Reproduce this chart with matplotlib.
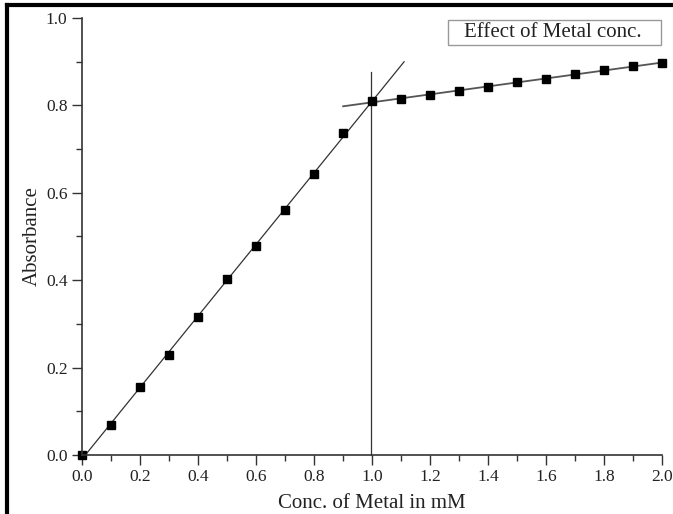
import numpy as np
import matplotlib.pyplot as plt
from matplotlib.lines import Line2D
from matplotlib.patches import Rectangle
from matplotlib.ticker import MultipleLocator

plt.rcParams['font.family'] = ['Liberation Serif', 'DejaVu Serif']

# Absorbance vs metal concentration
conc = [0.0, 0.1, 0.2, 0.3, 0.4, 0.5, 0.6, 0.7, 0.8, 0.9, 1.0,
        1.1, 1.2, 1.3, 1.4, 1.5, 1.6, 1.7, 1.8, 1.9, 2.0]
absorb = [0.0, 0.069, 0.156, 0.229, 0.316, 0.403, 0.478, 0.561, 0.643, 0.737, 0.810,
          0.815, 0.824, 0.833, 0.842, 0.854, 0.860, 0.872, 0.881, 0.890, 0.897]
legend_text = 'Effect of Metal conc.'

x = np.array(conc)
y = np.array(absorb)

fig = plt.figure(figsize=(6.73, 5.14), dpi=100)
ax = fig.add_axes([0.122, 0.115, 0.862, 0.85])

# linear fits of the rising part and the plateau
p1 = np.polyfit(x[:11], y[:11], 1)
p2 = np.polyfit(x[10:], y[10:], 1)
xi = (p2[1] - p1[1]) / (p1[0] - p2[0])

xa = np.array([0.0, 1.11])
xb = np.array([0.9, 2.0])
ax.plot(xa, np.polyval(p1, xa), color='#333333', lw=0.9)
ax.plot(xb, np.polyval(p2, xb), color='#555555', lw=1.3)
ax.plot([xi, xi], [0.0, 0.876], color='#333333', lw=0.9)

ax.plot(x, y, 's', color='black', ms=5.5)

ax.set_xlim(0, 2.0)
ax.set_ylim(0, 1.0)
ax.xaxis.set_major_locator(MultipleLocator(0.2))
ax.xaxis.set_minor_locator(MultipleLocator(0.1))
ax.yaxis.set_major_locator(MultipleLocator(0.2))
ax.yaxis.set_minor_locator(MultipleLocator(0.1))
ax.xaxis.set_major_formatter(plt.FormatStrFormatter('%.1f'))
ax.yaxis.set_major_formatter(plt.FormatStrFormatter('%.1f'))
ax.tick_params(which='major', direction='out', length=7, width=1, labelsize=12.5,
               color='#333333', labelcolor='#222222')
ax.tick_params(which='minor', direction='out', length=4, width=1, color='#333333')
ax.spines['top'].set_visible(False)
ax.spines['right'].set_visible(False)
for s in ('left', 'bottom'):
    ax.spines[s].set_color('#333333')
    ax.spines[s].set_linewidth(1.2)
for ln in ax.lines:
    ln.set_clip_on(False)

ax.set_xlabel('Conc. of Metal in mM', fontsize=15, labelpad=6, color='#222222')
ax.set_ylabel('Absorbance', fontsize=15, labelpad=3, color='#222222')

ax.add_patch(Rectangle((0.631, 0.938), 0.367, 0.057, transform=ax.transAxes,
                       fc='white', ec='#999999', lw=1, clip_on=False))
ax.text(0.811, 0.966, legend_text, transform=ax.transAxes, ha='center', va='center',
        fontsize=15, color='#222222')

# frame lines of the figure
fig.add_artist(Line2D([0.011, 1.0], [0.991, 0.991], color='black', lw=3, transform=fig.transFigure))
fig.add_artist(Line2D([0.011, 0.011], [0.0, 0.991], color='black', lw=3, transform=fig.transFigure))

fig.savefig('out.png', dpi=100)
